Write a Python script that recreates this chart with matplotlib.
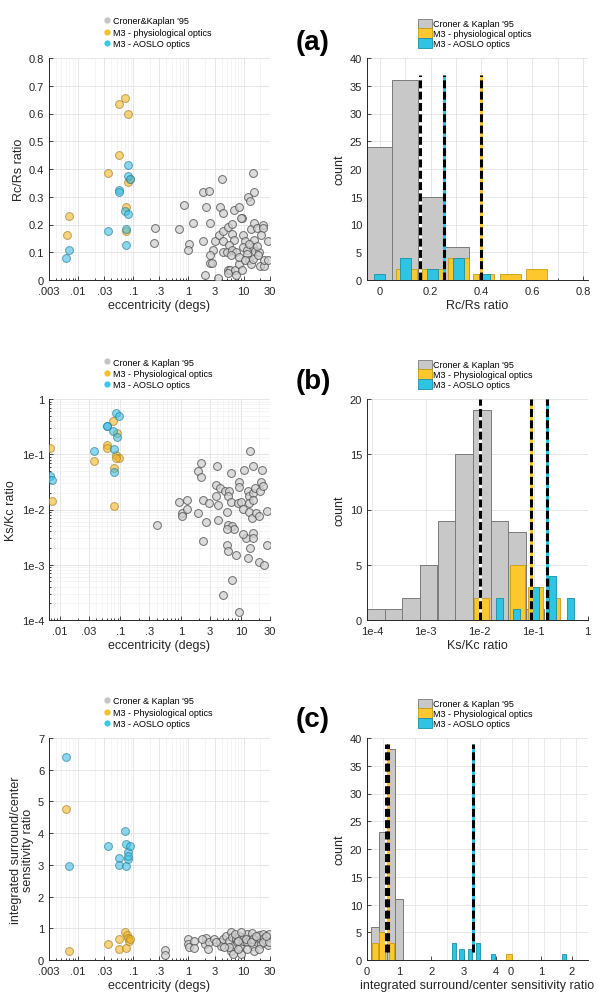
import numpy as np
import matplotlib.pyplot as plt
import matplotlib.ticker as mticker
from matplotlib.lines import Line2D
from matplotlib.patches import Patch

plt.rcParams['font.family'] = ['Liberation Sans', 'DejaVu Sans']

# -------------------------------
# scatter data, panel (a): Rc/Rs vs eccentricity
# -------------------------------
ck_ecc_a = [0.244, 0.237, 0.69, 0.85, 1.2, 1.045, 0.975, 1.87, 2.34, 2.09, 2.5, 1.87, 2.84, 2.5, 2.5,
            2.7, 1.99, 4.0, 3.74, 4.19, 3.5, 3.08, 3.6, 4.19, 4.3, 4.19, 4.94, 5.15, 6.17, 6.8, 8.37,
            9.35, 9.0, 6.17, 6.6, 5.5, 6.17, 7.3, 5.9, 5.15, 5.7, 5.15, 7.1, 7.3, 8.37, 9.35, 8.37,
            9.9, 10.5, 9.9, 11.4, 11.4, 12.7, 10.8, 11.9, 13.1, 14.6, 15.6, 13.6, 15.6, 17.2, 22,
            22.7, 15.6, 14.6, 16.2, 18.6, 20.2, 27.2, 13.6, 14.6, 19.5, 23.5, 23.5, 27.2, 17.2, 12.7, 18.0]
ck_rcrs_a = [0.187, 0.133, 0.183, 0.270, 0.204, 0.131, 0.108, 0.316, 0.322, 0.264, 0.207, 0.139, 0.107,
             0.090, 0.060, 0.063, 0.017, 0.364, 0.264, 0.241, 0.008, 0.141, 0.163, 0.177, 0.139, 0.102,
             0.102, 0.192, 0.201, 0.253, 0.264, 0.223, 0.225, 0.165, 0.143, 0.127, 0.107, 0.102, 0.090,
             0.035, 0.035, 0.024, 0.035, 0.017, 0.059, 0.035, 0.083, 0.161, 0.139, 0.119, 0.107, 0.093,
             0.071, 0.071, 0.298, 0.283, 0.384, 0.316, 0.183, 0.204, 0.187, 0.199, 0.187, 0.143, 0.119,
             0.105, 0.102, 0.163, 0.139, 0.059, 0.077, 0.051, 0.051, 0.071, 0.071, 0.123, 0.129, 0.090]
phys_ecc_a = [0.0068, 0.0063, 0.0545, 0.072, 0.080, 0.055, 0.035, 0.080, 0.073, 0.073, 0.088]
phys_rcrs_a = [0.229, 0.163, 0.635, 0.657, 0.599, 0.451, 0.384, 0.352, 0.264, 0.175, 0.364]
aoslo_ecc_a = [0.0068, 0.0062, 0.035, 0.055, 0.055, 0.080, 0.080, 0.088, 0.071, 0.080, 0.073, 0.073]
aoslo_rcrs_a = [0.108, 0.080, 0.177, 0.325, 0.316, 0.414, 0.376, 0.364, 0.249, 0.237, 0.183, 0.125]

# panel (b): Ks/Kc vs eccentricity
ck_ecc_b = [0.41, 0.94, 1.26, 1.04, 1.04, 1.26, 2.19, 1.95, 2.19, 2.36, 2.93, 1.95, 2.58, 2.33, 3.92,
            3.77, 4.45, 3.87, 4.17, 4.12, 5.31, 6.26, 6.1, 6.67, 6.67, 5.73, 6.1, 7.1, 7.6, 5.87, 5.87,
            6.1, 8.27, 6.93, 5.05, 9.16, 9.16, 9.16, 8.8, 10.1, 10.6, 11.3, 14.2, 15.7, 22.2, 13.0,
            13.7, 15.7, 17.2, 20.8, 21.6, 23.0, 13.4, 15.7, 13.4, 15.1, 17.7, 20.0, 26.8, 12.2, 15.7,
            15.7, 13.9, 26.8, 13.0, 20.0, 23.6, 10.8]
ck_kskc_b = [0.0053, 0.0135, 0.0149, 0.0087, 0.0076, 0.0102, 0.0695, 0.049, 0.0382, 0.0149, 0.0131,
             0.0087, 0.0059, 0.0027, 0.062, 0.0281, 0.0245, 0.0173, 0.0122, 0.0065, 0.0219, 0.0213,
             0.0173, 0.0451, 0.0139, 0.0091, 0.0052, 0.0050, 0.0044, 0.0044, 0.0023, 0.0018, 0.0015,
             0.00052, 0.00028, 0.000138, 0.031, 0.0259, 0.0131, 0.0135, 0.0102, 0.0526, 0.116, 0.0604,
             0.0526, 0.0213, 0.0173, 0.0197, 0.0242, 0.0212, 0.031, 0.0269, 0.0129, 0.0149, 0.0091,
             0.0070, 0.0087, 0.0077, 0.0095, 0.0031, 0.0037, 0.0030, 0.0020, 0.0023, 0.0013, 0.00114,
             0.00099, 0.0036]
phys_ecc_b = [0.0069, 0.0074, 0.037, 0.0595, 0.0595, 0.0748, 0.087, 0.085, 0.080, 0.094, 0.085, 0.078]
phys_kskc_b = [0.130, 0.0141, 0.0744, 0.145, 0.132, 0.394, 0.239, 0.097, 0.0564, 0.084, 0.084, 0.0114]
aoslo_ecc_b = [0.0069, 0.0074, 0.037, 0.0595, 0.0595, 0.085, 0.094, 0.0748, 0.087, 0.078, 0.078]
aoslo_kskc_b = [0.041, 0.0347, 0.113, 0.329, 0.322, 0.55, 0.50, 0.26, 0.202, 0.124, 0.048]

# panel (c): integrated surround/center sensitivity vs eccentricity
ck_ecc_c = [0.37, 0.38, 1.0, 1.0, 1.04, 1.24, 1.24, 2.09, 1.96, 2.4, 2.3, 2.9, 3.8, 3.9, 4.3, 4.8, 5.5,
            6.0, 6.2, 6.4, 6.0, 6.4, 7.2, 7.6, 8.4, 8.6, 8.9, 9.6, 10.3, 11.3, 11.7, 13.0, 14.1, 14.6,
            15.6, 16.4, 17.2, 18.6, 19.7, 20.2, 22, 23.5, 25.5, 27.2, 29, 18.6, 11.7, 7.9, 5.5, 4.5,
            7.0, 11.0, 8.9, 14.6, 22, 29, 3.2, 1.75, 7.9, 13.6, 16.8, 25.5]
ck_ratio_c = [0.32, 0.17, 0.66, 0.51, 0.40, 0.59, 0.38, 0.68, 0.51, 0.56, 0.35, 0.66, 0.56, 0.45, 0.66,
              0.77, 0.61, 0.87, 0.72, 0.45, 0.29, 0.19, 0.66, 0.56, 0.77, 0.40, 0.19, 0.61, 0.72, 0.82,
              0.56, 0.66, 0.85, 0.45, 0.29, 0.72, 0.58, 0.79, 0.66, 0.51, 0.82, 0.68, 0.61, 0.47, 0.82,
              0.35, 0.35, 0.35, 0.40, 0.40, 0.82, 0.66, 0.87, 0.66, 0.56, 0.56, 0.56, 0.66, 0.61, 0.56,
              0.77, 0.77]
phys_ecc_c = [0.0068, 0.0062, 0.035, 0.055, 0.055, 0.071, 0.073, 0.076, 0.080, 0.084, 0.088]
phys_ratio_c = [0.27, 4.77, 0.50, 0.66, 0.35, 0.89, 0.37, 0.79, 0.68, 0.61, 0.66]
aoslo_ecc_c = [0.0062, 0.0068, 0.035, 0.055, 0.055, 0.071, 0.073, 0.073, 0.080, 0.080, 0.088, 0.080]
aoslo_ratio_c = [6.40, 2.95, 3.58, 3.21, 3.00, 4.06, 3.66, 2.96, 3.42, 3.17, 3.61, 3.29]

# -------------------------------
# histogram data (bin centres + counts), median values
# -------------------------------
ck_bins_a = [0.0, 0.1, 0.2, 0.3]
ck_counts_a = [24, 36, 15, 6]
phys_bins_a = [0.104, 0.207, 0.31, 0.41, 0.514, 0.617]
phys_counts_a = [2, 2, 4, 1, 1, 2]
aoslo_bins_a = [0.0, 0.103, 0.207, 0.31, 0.414]
aoslo_counts_a = [1, 4, 2, 4, 1]
medians_a = [0.157, 0.397, 0.255]   # C&K, phys, AOSLO

# (b) bins given as log10 centres
ck_logbins_b = [-3.93, -3.60, -3.28, -2.95, -2.62, -2.29, -1.96, -1.63, -1.31, -0.98]
ck_counts_b = [1, 1, 2, 5, 9, 15, 19, 9, 8, 1]
phys_logbins_b = [-1.963, -1.302, -0.969, -0.641]
phys_counts_b = [2, 5, 3, 2]
aoslo_logbins_b = [-1.63, -1.31, -0.963, -0.648, -0.321]
aoslo_counts_b = [2, 1, 3, 4, 2]
medians_b = [0.0101, 0.088, 0.179]

ck_bins_c = [0.25, 0.5, 0.75, 1.0]
ck_counts_c = [6, 23, 38, 11]
phys_bins_c = [0.25, 0.47, 0.76, 4.41]
phys_counts_c = [3, 5, 3, 1]
aoslo_bins_c = [2.7, 2.94, 3.19, 3.45, 3.92, 6.13]
aoslo_counts_c = [3, 2, 2, 3, 1, 1]
medians_c = [0.60, 0.645, 3.28]
xticks_c = [0, 1, 2, 3, 4, 4.48, 5.41, 6.36]
xticklabels_c = ['0', '1', '2', '3', '4', '0', '1', '2']

ecc_ticks = [0.003, 0.01, 0.03, 0.1, 0.3, 1, 3, 10, 30]
ecc_labels = ['.003', '.01', '.03', '.1', '.3', '1', '3', '10', '30']

# colours
GRAY_F = (0.82, 0.82, 0.82, 0.75)
GRAY_E = (0.30, 0.30, 0.30, 0.8)
YEL_F = (0.95, 0.72, 0.15, 0.6)
YEL_E = (0.65, 0.50, 0.15, 0.7)
CYA_F = (0.25, 0.75, 0.90, 0.6)
CYA_E = (0.15, 0.50, 0.60, 0.7)
H_GRAY, H_GRAY_E = '#c8c8c8', '#7a7a7a'
H_YEL, H_YEL_E = '#fdc72e', '#c89b10'
H_CYA, H_CYA_E = '#2ec4e4', '#1a8fa6'
TXT = '#262626'
FS_TICK = 8
FS_LAB = 9
FS_LEG = 6.5

fig = plt.figure(figsize=(6, 10.03), dpi=100)

L_X, R_X, W = 49 / 600, 367 / 600, 221 / 600
rows = [(59, 281), (400, 621), (739, 961)]


def make_ax(x0, row):
    top, bot = row
    return fig.add_axes([x0, 1 - bot / 1003, W, (bot - top) / 1003])


def style(ax):
    for s in ['top', 'right']:
        ax.spines[s].set_visible(False)
    for s in ['left', 'bottom']:
        ax.spines[s].set_color(TXT)
        ax.spines[s].set_linewidth(0.7)
    ax.tick_params(which='both', direction='in', colors=TXT, labelsize=FS_TICK, width=0.6)
    ax.tick_params(which='major', length=3)
    ax.tick_params(which='minor', length=1.5)
    ax.tick_params(axis='x', pad=4.5)
    ax.grid(True, which='major', color='#e2e2e2', lw=0.6)
    ax.grid(True, which='minor', color='#f0f0f0', lw=0.5)
    ax.set_axisbelow(True)


def scatter_panel(ax, xs, ys, leg_labels):
    for x, y, fc, ec in zip(xs, ys, [GRAY_F, YEL_F, CYA_F], [GRAY_E, YEL_E, CYA_E]):
        ax.scatter(x, y, s=32, facecolor=fc, edgecolor=ec, linewidth=0.7, zorder=3)
    ax.set_xscale('log')
    ax.set_xticks(ecc_ticks)
    ax.set_xticklabels(ecc_labels)
    ax.xaxis.set_minor_locator(mticker.LogLocator(subs=np.arange(2, 10)))
    ax.xaxis.set_minor_formatter(mticker.NullFormatter())
    ax.set_xlabel('eccentricity (degs)', fontsize=FS_LAB, color=TXT, labelpad=2)
    style(ax)
    handles = [Line2D([], [], ls='none', marker='o', ms=4.5, mec='none', mfc=c)
               for c in ['#c4c4c4', '#f2c12e', '#3ec6e8']]
    ax.legend(handles, leg_labels, loc='lower left', bbox_to_anchor=(0.245, 1.045),
              frameon=False, fontsize=FS_LEG, handlelength=0.8, handletextpad=0.3,
              labelspacing=0.25, borderpad=0, borderaxespad=0)


def median_line(ax, x, y0, y1, color):
    ax.plot([x, x], [y0, y1], color=color, lw=2.2, solid_capstyle='butt', zorder=5)
    ax.plot([x, x], [y0, y1], color='k', lw=2.2, dashes=(2.6, 1.1), zorder=6)


def hist_legend(ax, labels):
    handles = [Patch(facecolor=f, edgecolor=e, lw=0.6)
               for f, e in [(H_GRAY, H_GRAY_E), (H_YEL, H_YEL_E), (H_CYA, H_CYA_E)]]
    ax.legend(handles, labels, loc='lower left', bbox_to_anchor=(0.23, 1.045),
              frameon=False, fontsize=FS_LEG, handlelength=1.6, handleheight=1.25,
              handletextpad=0.1, labelspacing=0.0, borderpad=0, borderaxespad=0)


leg1 = ["Croner&Kaplan '95", 'M3 - physiological optics', 'M3 - AOSLO optics']
leg1h = ["Croner & Kaplan '95", 'M3 - physiological optics', 'M3 - AOSLO optics']
leg2 = ["Croner & Kaplan '95", 'M3 - Physiological optics', 'M3 - AOSLO optics']

# ---------------- (a) left
ax = make_ax(L_X, rows[0])
scatter_panel(ax, [ck_ecc_a, phys_ecc_a, aoslo_ecc_a], [ck_rcrs_a, phys_rcrs_a, aoslo_rcrs_a], leg1)
ax.set_xlim(0.003, 30)
ax.set_ylim(0, 0.8)
ax.set_yticks(np.arange(0, 0.81, 0.1))
ax.set_yticklabels(['0', '0.1', '0.2', '0.3', '0.4', '0.5', '0.6', '0.7', '0.8'])
ax.set_ylabel('Rc/Rs ratio', fontsize=FS_LAB, color=TXT, labelpad=3)

# ---------------- (a) right
ax = make_ax(R_X, rows[0])
ax.bar(ck_bins_a, ck_counts_a, width=0.1, color=H_GRAY, edgecolor=H_GRAY_E, lw=0.7, zorder=2)
ax.bar(phys_bins_a, phys_counts_a, width=0.083, color=H_YEL, edgecolor=H_YEL_E, lw=0.6, zorder=3)
ax.bar(aoslo_bins_a, aoslo_counts_a, width=0.043, color=H_CYA, edgecolor=H_CYA_E, lw=0.6, zorder=4)
for m, c in zip(medians_a, ['white', H_YEL, H_CYA]):
    median_line(ax, m, 0, 37, c)
ax.set_xlim(-0.05, 0.82)
ax.set_ylim(0, 40)
ax.set_xticks([0, 0.2, 0.4, 0.6, 0.8])
ax.set_xticklabels(['0', '0.2', '0.4', '0.6', '0.8'])
ax.set_xticks(np.arange(0, 0.81, 0.1), minor=True)
ax.set_yticks(np.arange(0, 41, 5))
style(ax)
ax.grid(True, which='minor', axis='x', color='#e2e2e2', lw=0.6)
ax.set_xlabel('Rc/Rs ratio', fontsize=FS_LAB, color=TXT, labelpad=2)
ax.set_ylabel('count', fontsize=FS_LAB, color=TXT, labelpad=3)
hist_legend(ax, leg1h)

# ---------------- (b) left
ax = make_ax(L_X, rows[1])
scatter_panel(ax, [ck_ecc_b, phys_ecc_b, aoslo_ecc_b], [ck_kskc_b, phys_kskc_b, aoslo_kskc_b], leg2)
ax.set_xlim(0.0066, 30)
ax.set_yscale('log')
ax.set_ylim(1e-4, 1)
ax.set_yticks([1e-4, 1e-3, 1e-2, 1e-1, 1])
ax.set_yticklabels(['1e-4', '1e-3', '1e-2', '1e-1', '1'])
ax.yaxis.set_minor_locator(mticker.LogLocator(subs=np.arange(2, 10)))
ax.yaxis.set_minor_formatter(mticker.NullFormatter())
ax.set_ylabel('Ks/Kc ratio', fontsize=FS_LAB, color=TXT, labelpad=3)

# ---------------- (b) right
ax = make_ax(R_X, rows[1])
ax.set_xscale('log')


def log_bars(ax, logc, counts, lw_dec, fc, ec, lwid, z):
    logc = np.array(logc)
    left = 10 ** (logc - lw_dec / 2)
    right = 10 ** (logc + lw_dec / 2)
    ax.bar(left, counts, width=right - left, align='edge', color=fc, edgecolor=ec, lw=lwid, zorder=z)


log_bars(ax, ck_logbins_b, ck_counts_b, 0.327, H_GRAY, H_GRAY_E, 0.7, 2)
log_bars(ax, phys_logbins_b, phys_counts_b, 0.27, H_YEL, H_YEL_E, 0.6, 3)
log_bars(ax, aoslo_logbins_b, aoslo_counts_b, 0.13, H_CYA, H_CYA_E, 0.6, 4)
for m, c in zip(medians_b, ['white', H_YEL, H_CYA]):
    median_line(ax, m, 0, 20, c)
ax.set_xlim(8.1e-5, 1.02)
ax.set_ylim(0, 20)
ax.set_xticks([1e-4, 1e-3, 1e-2, 1e-1, 1])
ax.set_xticklabels(['1e-4', '1e-3', '1e-2', '1e-1', '1'])
ax.xaxis.set_minor_locator(mticker.NullLocator())
ax.set_yticks(np.arange(0, 21, 5))
style(ax)
ax.set_xlabel('Ks/Kc ratio', fontsize=FS_LAB, color=TXT, labelpad=2)
ax.set_ylabel('count', fontsize=FS_LAB, color=TXT, labelpad=3)
hist_legend(ax, leg2)

# ---------------- (c) left
ax = make_ax(L_X, rows[2])
scatter_panel(ax, [ck_ecc_c, phys_ecc_c, aoslo_ecc_c], [ck_ratio_c, phys_ratio_c, aoslo_ratio_c], leg2)
ax.set_xlim(0.003, 30)
ax.set_ylim(0, 7)
ax.set_yticks(np.arange(0, 8, 1))
ax.set_ylabel('integrated surround/center\nsensitivity ratio', fontsize=FS_LAB, color=TXT,
              labelpad=3, linespacing=1.0)

# ---------------- (c) right
ax = make_ax(R_X, rows[2])
ax.bar(ck_bins_c, ck_counts_c, width=0.25, color=H_GRAY, edgecolor=H_GRAY_E, lw=0.7, zorder=2)
ax.bar(phys_bins_c, phys_counts_c, width=0.17, color=H_YEL, edgecolor=H_YEL_E, lw=0.6, zorder=3)
ax.bar(aoslo_bins_c, aoslo_counts_c, width=0.13, color=H_CYA, edgecolor=H_CYA_E, lw=0.6, zorder=4)
for m, c in zip(medians_c, ['white', H_YEL, H_CYA]):
    median_line(ax, m, 1.5, 39, c)
ax.set_xlim(0, 6.87)
ax.set_ylim(0, 40)
ax.set_xticks(xticks_c)
ax.set_xticklabels(xticklabels_c)
ax.set_xticks(np.arange(0, 6.9, 0.5), minor=True)
ax.set_yticks(np.arange(0, 41, 5))
style(ax)
ax.tick_params(axis='x', which='minor', length=0)
ax.grid(True, which='minor', axis='x', color='#e8e8e8', lw=0.6)
ax.grid(False, which='major', axis='x')
ax.set_xlabel('integrated surround/center sensitivity ratio', fontsize=FS_LAB, color=TXT, labelpad=2)
ax.set_ylabel('count', fontsize=FS_LAB, color=TXT, labelpad=3)
hist_legend(ax, leg2)

# panel letters
for lab, yy in [('(a)', 43), ('(b)', 382), ('(c)', 720)]:
    fig.text(313 / 600, 1 - yy / 1003, lab, ha='center', va='center', fontsize=20,
             fontweight='bold', color='k')

fig.savefig('out.png', dpi=100)
